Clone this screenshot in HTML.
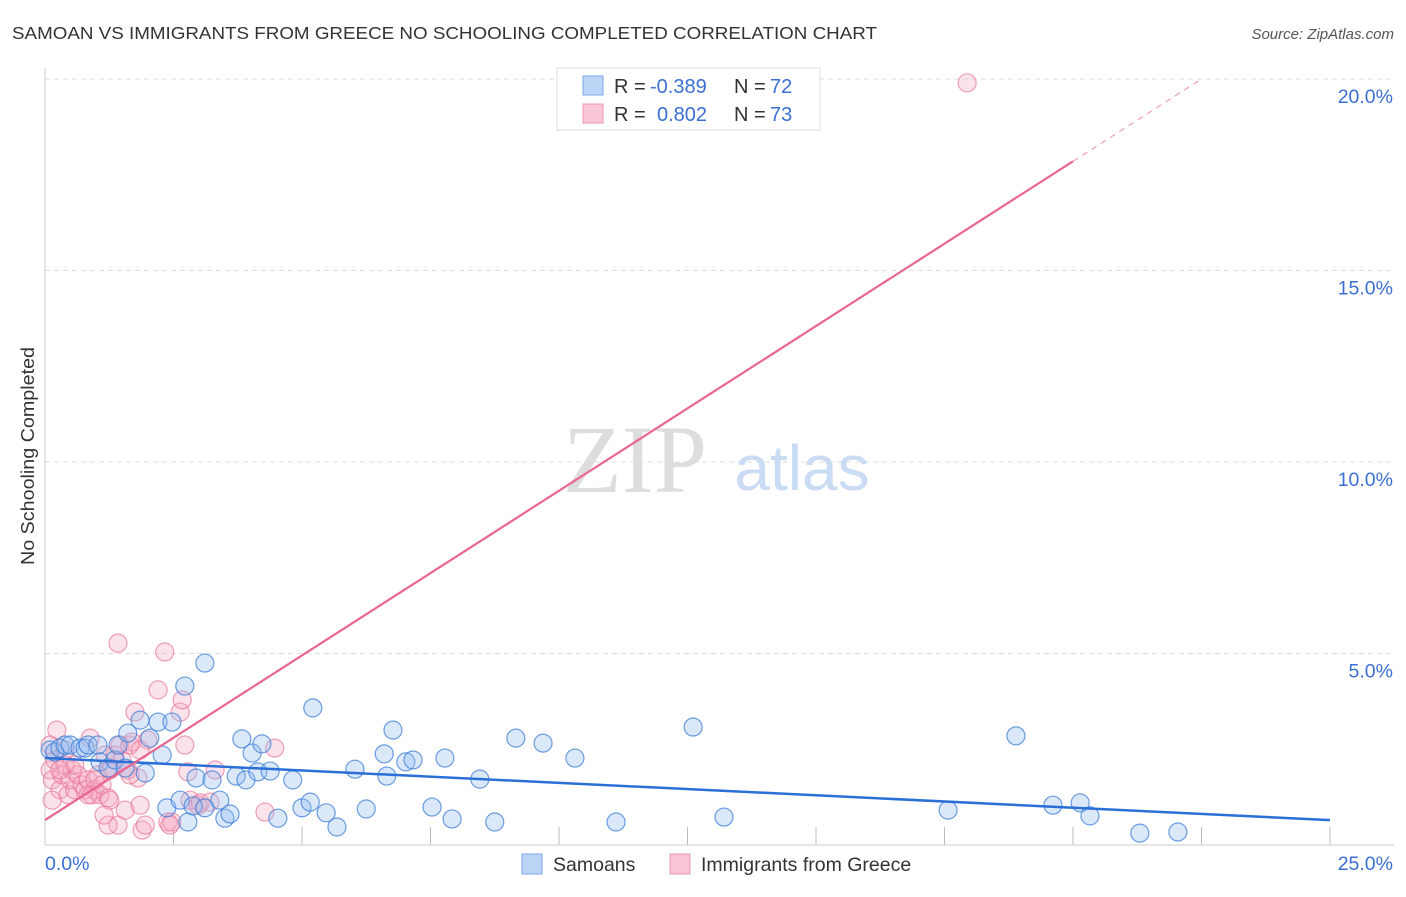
<!DOCTYPE html>
<html><head><meta charset="utf-8"><style>
body{margin:0;background:#fff;font-family:"Liberation Sans",sans-serif;}
svg text{font-family:"Liberation Sans",sans-serif;}
</style></head><body>
<svg id="c" width="1406" height="892">
<text x="12" y="39" font-size="17.5" fill="#333" textLength="865" lengthAdjust="spacingAndGlyphs">SAMOAN VS IMMIGRANTS FROM GREECE NO SCHOOLING COMPLETED CORRELATION CHART</text>
<text x="1394" y="39" font-size="15" fill="#555" text-anchor="end" font-style="italic">Source: ZipAtlas.com</text>
<text x="34" y="456" font-size="18" fill="#333" text-anchor="middle" textLength="218" lengthAdjust="spacingAndGlyphs" transform="rotate(-90 34 456)">No Schooling Completed</text>
<g id="grid"></g>
<text x="635" y="492" font-size="96" fill="#ddd" text-anchor="middle" style="font-family:'Liberation Serif',serif">ZIP</text>
<text x="802" y="490" font-size="64" fill="#c9dcf3" text-anchor="middle">atlas</text>
<g id="pts"></g>
<g id="lines"></g>
<g>
<rect x="557" y="68" width="263" height="62" fill="#fff" stroke="#ddd"/>
<rect x="583" y="76" width="20" height="19" fill="#bcd4f5" stroke="#7aa7e6"/>
<rect x="583" y="104" width="20" height="19" fill="#f8c6d5" stroke="#ec98b2"/>
<text x="614" y="93" font-size="20" fill="#333">R = </text><text x="650" y="93" font-size="20" fill="#3b6fd4">-0.389</text>
<text x="734" y="93" font-size="20" fill="#333">N = </text><text x="770" y="93" font-size="20" fill="#3b6fd4">72</text>
<text x="614" y="121" font-size="20" fill="#333">R = </text><text x="657" y="121" font-size="20" fill="#3b6fd4">0.802</text>
<text x="734" y="121" font-size="20" fill="#333">N = </text><text x="770" y="121" font-size="20" fill="#3b6fd4">73</text>
</g>
<g>
<rect x="522" y="854" width="20" height="20" fill="#bcd4f5" stroke="#7aa7e6"/>
<text x="553" y="871" font-size="19.5" fill="#333">Samoans</text>
<rect x="670" y="854" width="20" height="20" fill="#f8c6d5" stroke="#ec98b2"/>
<text x="701" y="871" font-size="19.5" fill="#333">Immigrants from Greece</text>
</g>
</svg>
<script>
const blueX=[.10,.19,.29,.39,.49,.68,.78,.84,1.03,1.07,1.23,1.36,1.42,1.56,1.61,1.85,1.95,2.04,2.20,2.28,2.37,2.47,2.63,2.72,2.78,2.88,2.94,3.11,3.11,3.25,3.40,3.50,3.60,3.72,3.83,3.91,4.03,4.14,4.22,4.38,4.53,4.82,5.00,5.16,5.21,5.47,5.68,6.03,6.25,6.60,6.65,6.77,7.02,7.16,7.53,7.78,7.92,8.46,8.75,9.16,9.69,10.31,11.11,12.61,13.21,17.57,18.89,19.61,20.14,20.33,21.30,22.04];
const blueY=[2.48,2.43,2.53,2.61,2.61,2.53,2.53,2.61,2.61,2.17,2.01,2.22,2.61,2.01,2.92,3.26,1.88,2.79,3.21,2.35,.97,3.21,1.17,4.15,.60,1.02,1.75,4.75,.97,1.70,1.17,.70,.81,1.80,2.77,1.70,2.40,1.91,2.64,1.93,.70,1.70,.97,1.12,3.58,.84,.47,1.98,.94,2.38,1.80,3.00,2.17,2.22,.99,2.27,.68,1.72,.60,2.79,2.66,2.27,.60,3.08,.73,.91,2.85,1.04,1.10,.76,.31,.34];
const pinkX=[.10,.14,.19,.23,.29,.33,.39,.45,.49,.53,.58,.64,.72,.78,.84,.88,.91,.97,1.03,1.07,1.11,1.17,1.23,1.26,1.30,1.36,1.42,1.46,1.50,1.56,1.61,1.65,1.69,1.75,1.81,1.85,1.89,1.95,2.00,2.20,2.33,2.39,2.47,2.63,2.67,2.72,2.82,2.98,3.02,3.21,3.31,4.28,4.47,1.23,1.15,1.42,17.94,.10,.14,.39,1.65,1.85,.58,.84,.97,2.43,2.78,.29,1.26];
const pinkY=[1.96,1.70,2.22,3.00,1.44,1.83,2.48,1.31,1.70,1.96,1.44,1.83,1.57,1.44,1.70,2.79,1.31,1.44,1.83,1.31,1.57,2.35,1.23,1.17,2.01,2.35,.52,2.61,2.22,.91,1.96,2.61,2.69,3.47,1.75,1.04,.39,.52,2.74,4.05,5.04,.60,.60,3.47,3.79,2.61,1.17,1.04,1.10,1.12,1.96,.86,2.53,.52,.78,5.27,19.90,2.61,1.17,2.09,1.83,2.48,2.09,1.31,1.70,.52,1.91,1.96,1.96];
const yTicks=[5,10,15,20];
const xTicks=[2.5,5,7.5,10,12.5,15,17.5,20,22.5,25];
const blueTrend=[[0,2.27],[25,0.65]];
const pinkTrend=[[0,0.65],[20,17.85],[22.5,20]];
const X=v=>45+v*51.4, Y=v=>845-v*38.3;
const NS='http://www.w3.org/2000/svg';
function mk(t,a,p){const e=document.createElementNS(NS,t);for(const k in a)e.setAttribute(k,a[k]);p.appendChild(e);return e;}
const grid=document.getElementById('grid'),pts=document.getElementById('pts'),lines=document.getElementById('lines');
yTicks.forEach(t=>{
 const l=mk('line',{x1:45,x2:1394,y1:Y(t),y2:Y(t),stroke:'#ddd','stroke-dasharray':'5,4'},grid);
 
 
 const tx=mk('text',{x:1393,y:Y(t)+24,'font-size':19.5,fill:'#3b6fd4','text-anchor':'end'},grid);
 tx.textContent=t.toFixed(1)+'%';
 
 
});
xTicks.forEach(t=>{
 const l=mk('line',{x1:X(t),x2:X(t),y1:827,y2:845,stroke:'#bbb'},grid);
 
 
});
let a=mk('line',{x1:45,x2:45,y1:68,y2:845,stroke:'#ccc'},grid);


a=mk('line',{x1:45,x2:1394,y1:845,y2:845,stroke:'#ccc'},grid);


let t0=mk('text',{x:45,y:870,'font-size':19.5,fill:'#3b6fd4'},grid);t0.textContent='0.0%';


let t1=mk('text',{x:1393,y:870,'font-size':19.5,fill:'#3b6fd4','text-anchor':'end'},grid);t1.textContent='25.0%';


pinkX.forEach((v,i)=>{
 const c=mk('circle',{cx:X(v),cy:Y(pinkY[i]),r:9,fill:'rgba(246,168,192,0.32)',stroke:'rgba(232,120,155,0.7)','stroke-width':1.2},pts);
 
 
});
blueX.forEach((v,i)=>{
 const c=mk('circle',{cx:X(v),cy:Y(blueY[i]),r:9,fill:'rgba(150,190,240,0.35)',stroke:'rgba(60,125,215,0.75)','stroke-width':1.2},pts);
 
 
});
let l=mk('line',{x1:X(blueTrend[0][0]),y1:Y(blueTrend[0][1]),x2:X(blueTrend[1][0]),y2:Y(blueTrend[1][1]),stroke:'#2a6fd6','stroke-width':2.5},lines);


l=mk('line',{x1:X(pinkTrend[0][0]),y1:Y(pinkTrend[0][1]),x2:X(pinkTrend[1][0]),y2:Y(pinkTrend[1][1]),stroke:'#e8668f','stroke-width':2.2},lines);


l=mk('line',{x1:X(pinkTrend[1][0]),y1:Y(pinkTrend[1][1]),x2:X(pinkTrend[2][0]),y2:Y(pinkTrend[2][1]),stroke:'#f0a0b8','stroke-width':1.2,'stroke-dasharray':'6,5'},lines);


</script>
</body></html>
